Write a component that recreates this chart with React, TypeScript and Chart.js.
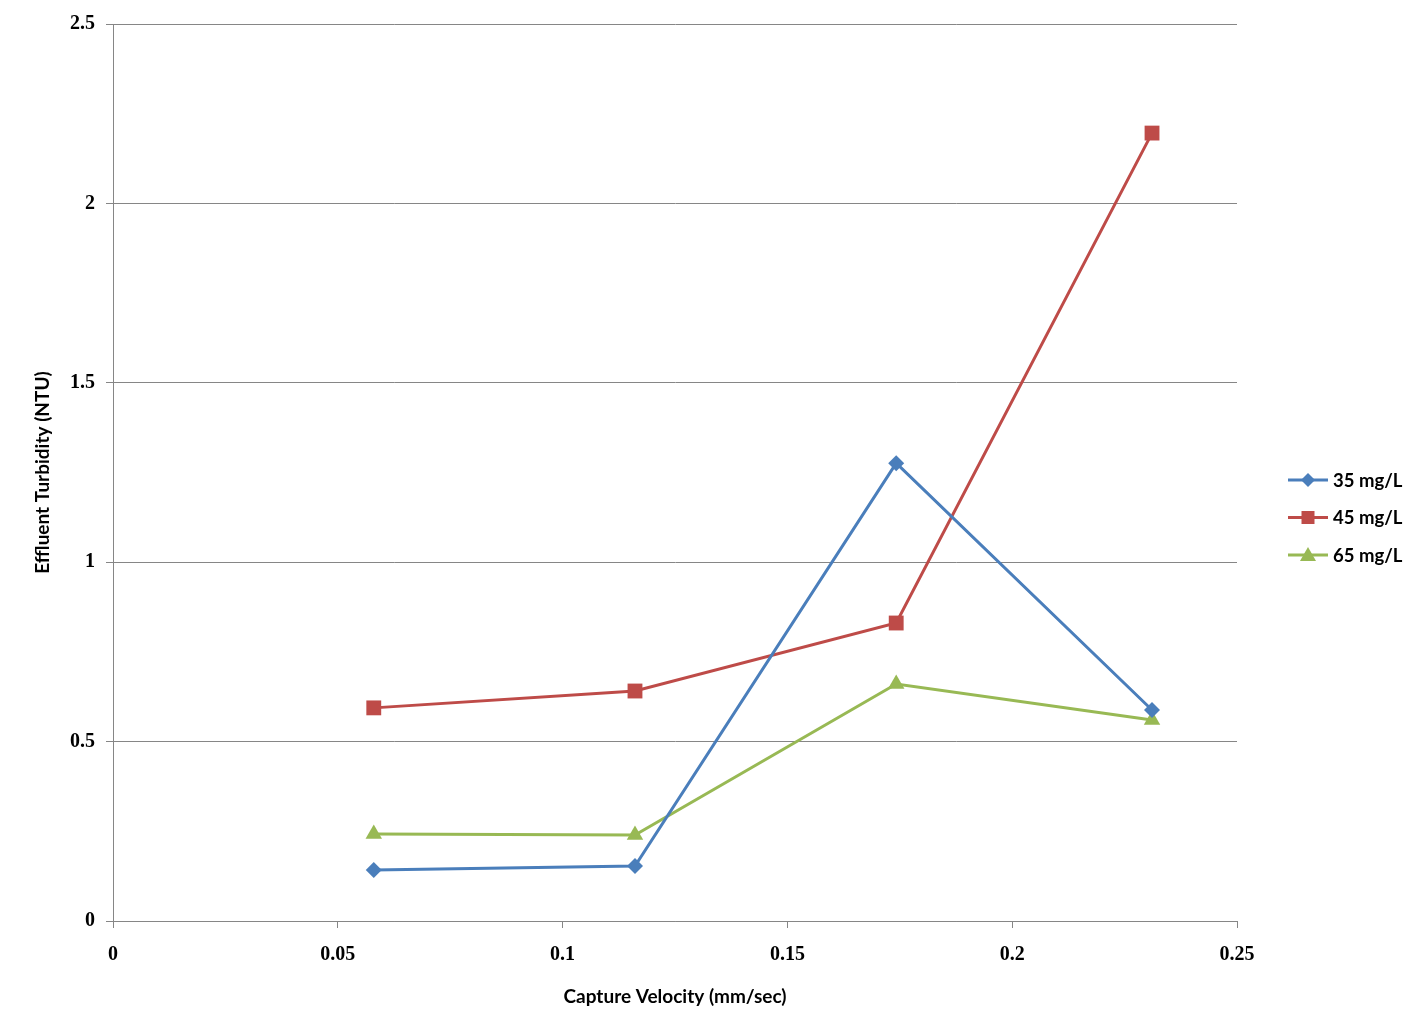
import React, { useEffect, useRef } from "react";
import { Chart, registerables } from "chart.js";

Chart.register(...registerables);

const velocities = [0.058, 0.1161, 0.1742, 0.2311];
const series35 = [0.142, 0.153, 1.276, 0.588];
const series45 = [0.594, 0.641, 0.8305, 2.196];
const series65 = [0.2425, 0.2397, 0.6605, 0.56];
const seriesLabels = ["35 mg/L", "45 mg/L", "65 mg/L"];
const seriesColors = ["#4A7EBB", "#BE4B48", "#98B954"];
const seriesPoints = ["rectRot", "rect", "triangle"];
const seriesRadius = [8, 10.5, 9.5];

const xTitle = "Capture Velocity (mm/sec)";
const yTitle = "Effluent Turbidity (NTU)";

const legendPlugin = {
  id: "customLegend",
  afterDraw(chart: any) {
    const ctx = chart.ctx;
    const x0 = 1288;
    const ys = [480, 517.5, 555];
    ctx.save();
    chart.data.datasets.forEach((ds: any, i: number) => {
      const y = ys[i];
      ctx.strokeStyle = ds.borderColor;
      ctx.lineWidth = 3;
      ctx.beginPath();
      ctx.moveTo(x0, y);
      ctx.lineTo(x0 + 40, y);
      ctx.stroke();
      ctx.fillStyle = ds.borderColor;
      const cx = x0 + 20;
      ctx.beginPath();
      if (ds.pointStyle === "rectRot") {
        ctx.moveTo(cx, y - 7);
        ctx.lineTo(cx + 7, y);
        ctx.lineTo(cx, y + 7);
        ctx.lineTo(cx - 7, y);
      } else if (ds.pointStyle === "rect") {
        ctx.rect(cx - 6.5, y - 6.5, 13, 13);
      } else {
        ctx.moveTo(cx, y - 8);
        ctx.lineTo(cx + 8, y + 6);
        ctx.lineTo(cx - 8, y + 6);
      }
      ctx.closePath();
      ctx.fill();
      ctx.fillStyle = "#000";
      ctx.font = "bold 18.5px Lato";
      ctx.textBaseline = "middle";
      ctx.textAlign = "left";
      ctx.fillText(ds.label, x0 + 45, y + 1);
    });
    ctx.restore();
  },
};

export default function App() {
  const ref = useRef<HTMLCanvasElement>(null);
  useEffect(() => {
    document.body.style.margin = "0";
    const data = [series35, series45, series65];
    const chart = new Chart(ref.current!, {
      type: "line",
      data: {
        datasets: data.map((s, i) => ({
          label: seriesLabels[i],
          data: s.map((v, j) => ({ x: velocities[j], y: v })),
          borderColor: seriesColors[i],
          backgroundColor: seriesColors[i],
          borderWidth: 3,
          pointStyle: seriesPoints[i] as any,
          pointRadius: seriesRadius[i],
          pointBorderWidth: 0,
          tension: 0,
        })),
      },
      options: {
        animation: false,
        responsive: true,
        maintainAspectRatio: false,
        layout: { padding: { top: 24, right: 187, bottom: 0, left: 0 } },
        plugins: { legend: { display: false }, tooltip: { enabled: false } },
        scales: {
          x: {
            type: "linear",
            min: 0,
            max: 0.25,
            ticks: {
              stepSize: 0.05,
              color: "#000",
              font: { family: "Liberation Serif", weight: "bold", size: 20 },
              padding: 15,
              callback: (v: any) => String(Math.round(Number(v) * 100) / 100),
            },
            grid: { drawOnChartArea: false, drawTicks: true, tickLength: 7, color: "#868686" },
            border: { color: "#868686" },
            title: {
              display: true,
              text: xTitle,
              color: "#000",
              font: { family: "Lato", weight: "bold", size: 19 },
              padding: { top: 10, bottom: 27 },
            },
            afterFit: (scale: any) => {
              scale.height = 114;
            },
          },
          y: {
            min: 0,
            max: 2.5,
            ticks: {
              stepSize: 0.5,
              color: "#000",
              font: { family: "Liberation Serif", weight: "bold", size: 20 },
              padding: 11,
              callback: (v: any) => String(Math.round(Number(v) * 10) / 10),
            },
            grid: { color: "#868686", tickLength: 7 },
            border: { color: "#868686" },
            title: {
              display: true,
              text: yTitle,
              color: "#000",
              font: { family: "Lato", weight: "bold", size: 19 },
              padding: { top: 31, bottom: 10 },
            },
            afterFit: (scale: any) => {
              scale.width = 113;
            },
          },
        },
      },
      plugins: [legendPlugin],
    });
    return () => chart.destroy();
  }, []);
  return (
    <div style={{ width: 1424, height: 1035, position: "relative", background: "#fff" }}>
      <canvas ref={ref} />
    </div>
  );
}
